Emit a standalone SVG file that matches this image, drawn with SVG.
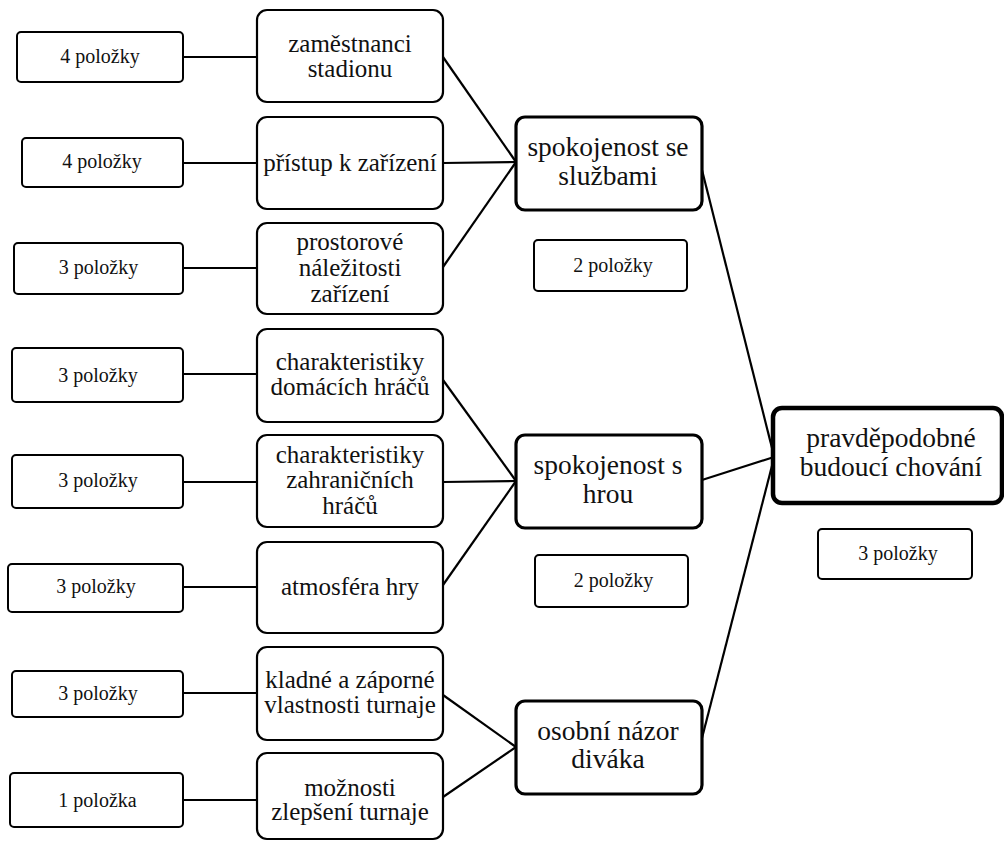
<svg xmlns="http://www.w3.org/2000/svg" width="1004" height="843" viewBox="0 0 1004 843">
<style>
  .sm { fill:#fff; stroke:#000; stroke-width:2; }
  .md { fill:#fff; stroke:#000; stroke-width:2.2; }
  .lg { fill:#fff; stroke:#000; stroke-width:3.2; }
  .xl { fill:#fff; stroke:#000; stroke-width:4.5; }
  .con line { stroke:#000; stroke-width:2.2; }
</style>
<rect width="1004" height="843" fill="#fff"/>
<g class="con" id="connectors">
  <line x1="183" y1="57" x2="257" y2="57"/>
  <line x1="183" y1="163" x2="257" y2="163"/>
  <line x1="183" y1="268" x2="257" y2="268"/>
  <line x1="183" y1="374" x2="257" y2="374"/>
  <line x1="183" y1="482" x2="257" y2="482"/>
  <line x1="183" y1="587" x2="257" y2="587"/>
  <line x1="183" y1="693" x2="257" y2="693"/>
  <line x1="183" y1="800" x2="257" y2="800"/>
  <line x1="443" y1="57" x2="516" y2="162"/>
  <line x1="443" y1="163" x2="516" y2="162"/>
  <line x1="443" y1="267" x2="516" y2="162"/>
  <line x1="443" y1="380" x2="516" y2="481"/>
  <line x1="443" y1="482" x2="516" y2="481"/>
  <line x1="443" y1="585" x2="516" y2="481"/>
  <line x1="443" y1="695" x2="516" y2="747"/>
  <line x1="443" y1="797" x2="516" y2="747"/>
  <line x1="702" y1="170" x2="774" y2="456"/>
  <line x1="702" y1="480" x2="774" y2="457"/>
  <line x1="702" y1="738" x2="774" y2="458"/>
</g>
<g font-family="'Liberation Serif', 'Times New Roman', Tinos, 'DejaVu Serif', serif" fill="#111" text-anchor="middle">
<g id="n-p1"><rect class="sm" x="17" y="32" width="166" height="50" rx="4"/><text font-size="20" x="100" y="63">4 položky</text></g>
<g id="n-p2"><rect class="sm" x="22" y="138" width="161" height="49" rx="4"/><text font-size="20" x="102" y="168">4 položky</text></g>
<g id="n-p3"><rect class="sm" x="14" y="243" width="169" height="51" rx="4"/><text font-size="20" x="98.5" y="274">3 položky</text></g>
<g id="n-p4"><rect class="sm" x="12" y="348" width="171" height="54" rx="4"/><text font-size="20" x="98" y="382">3 položky</text></g>
<g id="n-p5"><rect class="sm" x="12" y="455" width="171" height="53" rx="4"/><text font-size="20" x="98" y="487">3 položky</text></g>
<g id="n-p6"><rect class="sm" x="8" y="564" width="175" height="48" rx="4"/><text font-size="20" x="96" y="593">3 položky</text></g>
<g id="n-p7"><rect class="sm" x="12" y="671" width="171" height="46" rx="4"/><text font-size="20" x="98" y="700">3 položky</text></g>
<g id="n-p8"><rect class="sm" x="10" y="773" width="173" height="54" rx="4"/><text font-size="20" x="97.5" y="807">1 položka</text></g>

<g id="n-zamestnanci"><rect class="md" x="257" y="10" width="186" height="92" rx="10"/><text font-size="25" x="350" y="52">zaměstnanci</text><text font-size="25" x="350" y="77">stadionu</text></g>
<g id="n-pristup"><rect class="md" x="257" y="117" width="186" height="92" rx="10"/><text font-size="25" x="350" y="171">přístup k zařízení</text></g>
<g id="n-prostorove"><rect class="md" x="257" y="223" width="186" height="91" rx="10"/><text font-size="25" x="350" y="250">prostorové</text><text font-size="25" x="350" y="276">náležitosti</text><text font-size="25" x="350" y="302">zařízení</text></g>
<g id="n-domaci"><rect class="md" x="257" y="329" width="186" height="93" rx="10"/><text font-size="25" x="350" y="370">charakteristiky</text><text font-size="25" x="350" y="395">domácích hráčů</text></g>
<g id="n-zahranicni"><rect class="md" x="257" y="435" width="186" height="92" rx="10"/><text font-size="25" x="350" y="463">charakteristiky</text><text font-size="25" x="350" y="488">zahraničních</text><text font-size="25" x="350" y="514">hráčů</text></g>
<g id="n-atmosfera"><rect class="md" x="257" y="542" width="186" height="91" rx="10"/><text font-size="25" x="350" y="595">atmosféra hry</text></g>
<g id="n-kladne"><rect class="md" x="257" y="647" width="186" height="93" rx="10"/><text font-size="25" x="350" y="688">kladné a záporné</text><text font-size="25" x="350" y="713">vlastnosti turnaje</text></g>
<g id="n-moznosti"><rect class="md" x="257" y="753" width="186" height="86" rx="10"/><text font-size="25" x="350" y="796">možnosti</text><text font-size="25" x="350" y="820">zlepšení turnaje</text></g>

<g id="n-sluzby"><rect class="lg" x="516" y="117" width="186" height="93" rx="9"/><text font-size="27.5" x="608" y="156">spokojenost se</text><text font-size="27.5" x="608" y="185">službami</text></g>
<g id="n-sluzby-p"><rect class="sm" x="534" y="240" width="153" height="51" rx="4"/><text font-size="20" x="613" y="272">2 položky</text></g>
<g id="n-hra"><rect class="lg" x="516" y="435" width="186" height="93" rx="9"/><text font-size="27.5" x="608" y="474">spokojenost s</text><text font-size="27.5" x="608" y="503">hrou</text></g>
<g id="n-hra-p"><rect class="sm" x="535" y="555" width="153" height="52" rx="4"/><text font-size="20" x="613.5" y="587">2 položky</text></g>
<g id="n-nazor"><rect class="lg" x="516" y="701" width="186" height="93" rx="9"/><text font-size="27.5" x="608" y="740">osobní názor</text><text font-size="27.5" x="608" y="768">diváka</text></g>

<g id="n-chovani"><rect class="xl" x="773" y="408" width="229" height="95" rx="9"/><text font-size="27.5" x="891" y="447">pravděpodobné</text><text font-size="27.5" x="891" y="476">budoucí chování</text></g>
<g id="n-chovani-p"><rect class="sm" x="818" y="529" width="154" height="50" rx="4"/><text font-size="20" x="898" y="560">3 položky</text></g>
</g>
</svg>
